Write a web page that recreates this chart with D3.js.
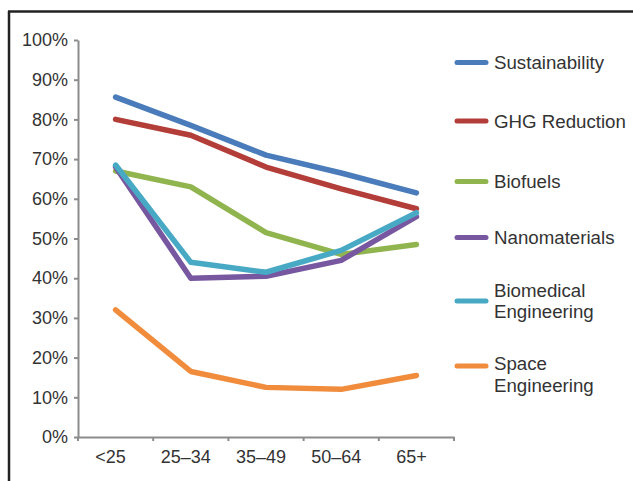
<!DOCTYPE html>
<html>
<head>
<meta charset="utf-8">
<script src="https://cdn.jsdelivr.net/npm/d3@7"></script>
<style>
  html, body { margin: 0; padding: 0; background: #fff; }
  svg { display: block; }
  text { font-family: "Liberation Sans", Arial, Helvetica, sans-serif; fill: #333; }
</style>
</head>
<body>
<svg id="chart" width="633" height="481"></svg>
<script>
// Age groups on the x axis
const ageGroups = ["<25", "25–34", "35–49", "50–64", "65+"];

// Share of respondents (%) per topic and age group
const sustainability = [85.6, 78.5, 71, 66.5, 61.5];
const ghgReduction   = [80, 76, 68, 62.5, 57.5];
const biofuels       = [67, 63, 51.5, 46, 48.5];
const nanomaterials  = [68, 40, 40.5, 44.5, 55.5];
const biomedical     = [68.5, 44, 41.5, 47, 56.5];
const spaceEng       = [32, 16.5, 12.5, 12, 15.5];

const seriesNames  = ["Sustainability", "GHG Reduction", "Biofuels", "Nanomaterials", "Biomedical Engineering", "Space Engineering"];
const seriesLabels = [["Sustainability"], ["GHG Reduction"], ["Biofuels"], ["Nanomaterials"], ["Biomedical", "Engineering"], ["Space", "Engineering"]];
const seriesValues = [sustainability, ghgReduction, biofuels, nanomaterials, biomedical, spaceEng];
const seriesColors = ["#4a7bba", "#b33d38", "#90b44e", "#7757a0", "#48a9c5", "#f08c3c"];

const yTicks = [0, 10, 20, 30, 40, 50, 60, 70, 80, 90, 100];

const svg = d3.select("#chart");

// Frame edges (top and left)
svg.append("line").attr("x1", 8).attr("x2", 633).attr("y1", 11.5).attr("y2", 11.5)
  .attr("stroke", "#222").attr("stroke-width", 2.5);
svg.append("line").attr("x1", 9).attr("x2", 9).attr("y1", 11).attr("y2", 481)
  .attr("stroke", "#222").attr("stroke-width", 2.5);

const plot = { left: 78, right: 454, top: 40, bottom: 437 };

const x = d3.scaleBand().domain(ageGroups).range([plot.left, plot.right]).paddingInner(0).paddingOuter(0);
const y = d3.scaleLinear().domain([0, 100]).range([plot.bottom, plot.top]);

const axisColor = "#8c8c8c";

// Y axis
const yAxis = svg.append("g")
  .attr("transform", `translate(${plot.left},0)`)
  .call(d3.axisLeft(y).tickValues(yTicks).tickFormat(d => d + "%").tickSize(4).tickPadding(6).tickSizeOuter(0));

// X axis with ticks at band boundaries
const xAxis = svg.append("g")
  .attr("transform", `translate(0,${plot.bottom})`)
  .call(d3.axisBottom(x).tickSize(0).tickPadding(13).tickSizeOuter(0));
xAxis.selectAll(".tick text").attr("dx", "-5");
const edges = ageGroups.map(d => x(d)).concat([x(ageGroups[ageGroups.length - 1]) + x.bandwidth()]);
xAxis.selectAll(".edge-tick").data(edges).join("line")
  .attr("class", "edge-tick")
  .attr("x1", d => d).attr("x2", d => d).attr("y1", 0).attr("y2", 4)
  .attr("stroke", axisColor).attr("stroke-width", 2);

[yAxis, xAxis].forEach(g => {
  g.select(".domain").attr("stroke", axisColor).attr("stroke-width", 2);
  g.selectAll(".tick line").attr("stroke", axisColor).attr("stroke-width", 2);
  g.selectAll(".tick text").attr("font-size", 18).attr("fill", "#333")
    .attr("font-family", "'Liberation Sans', Arial, Helvetica, sans-serif");
});

// Lines
const line = d3.line()
  .x((d, i) => x(ageGroups[i]) + x.bandwidth() / 2)
  .y(d => y(d));

svg.append("g").selectAll("path")
  .data(seriesValues)
  .join("path")
  .attr("d", d => line(d))
  .attr("fill", "none")
  .attr("stroke", (d, i) => seriesColors[i])
  .attr("stroke-width", 5.5)
  .attr("stroke-linejoin", "round")
  .attr("stroke-linecap", "round");

// Legend
const legendSwatchY = [62.5, 121, 181.5, 237.5, 301, 366];
const legend = svg.append("g");
seriesNames.forEach((name, i) => {
  const g = legend.append("g");
  g.append("line")
    .attr("x1", 457).attr("x2", 486)
    .attr("y1", legendSwatchY[i]).attr("y2", legendSwatchY[i])
    .attr("stroke", seriesColors[i]).attr("stroke-width", 5).attr("stroke-linecap", "round");
  const lines = seriesLabels[i];
  const firstBaseline = i === 5 ? legendSwatchY[i] + 4 : legendSwatchY[i] + 6.5 - (lines.length - 1) * 10.85;
  const t = g.append("text").attr("font-size", 18.7).attr("fill", "#333");
  lines.forEach((s, k) => {
    t.append("tspan").attr("x", 494).attr("y", firstBaseline + k * 21.7).text(s);
  });
});
</script>
</body>
</html>
